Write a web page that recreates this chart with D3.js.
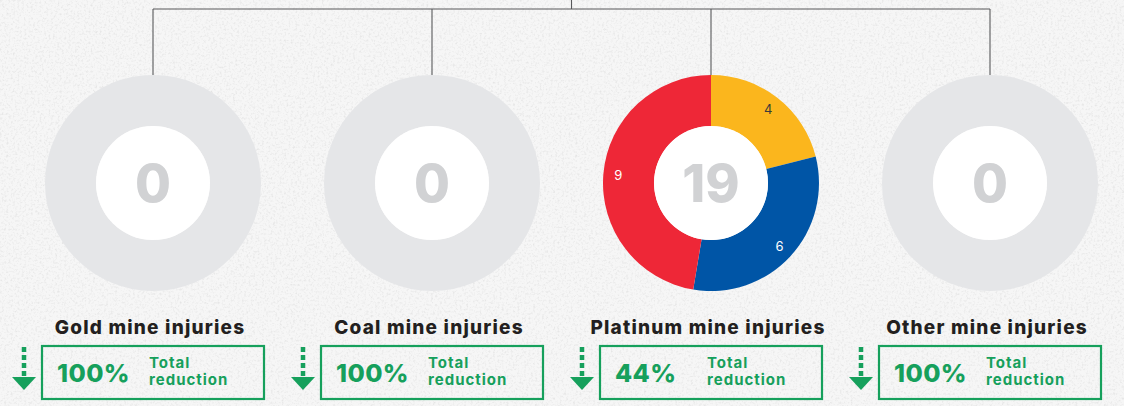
<!DOCTYPE html>
<html>
<head>
<meta charset="utf-8">
<script src="https://cdn.jsdelivr.net/npm/d3@7"></script>
<style>
  html, body { margin: 0; padding: 0; background: #f3f3f3; }
  svg { display: block; font-family: Inter, "Open Sans", sans-serif; }
</style>
</head>
<body>
<div id="chart"></div>
<script>
var categories = ["Gold mine injuries", "Coal mine injuries", "Platinum mine injuries", "Other mine injuries"];
var totals = [0, 0, 19, 0];
var reductions = ["100%", "100%", "44%", "100%"];
var reductionLabel = ["Total", "reduction"];

// platinum breakdown, clockwise from 12 o'clock
var platinumParts = [4, 6, 9];
var partColors = ["#fbb61d", "#0055a6", "#ee2737"];
var partTextColors = ["#3a3a3a", "#ffffff", "#ffffff"];

(function(){
  var width = 1124,
    height = 406;

  var green = "#16a05c";

  var svg = d3.select("#chart")
    .append("svg")
    .attr("width", width)
    .attr("height", height);

  // paper texture
  var defs = svg.append("defs");
  var f = defs.append("filter").attr("id", "paper")
    .attr("x", 0).attr("y", 0).attr("width", "100%").attr("height", "100%");
  f.append("feTurbulence")
    .attr("type", "fractalNoise")
    .attr("baseFrequency", 0.45)
    .attr("numOctaves", 3)
    .attr("seed", 4);
  f.append("feColorMatrix")
    .attr("type", "matrix")
    .attr("values", "0 0 0 0 0.5  0 0 0 0 0.5  0 0 0 0 0.5  0 0 0 -2.2 1.15");

  svg.append("rect").attr("width", width).attr("height", height).attr("fill", "#f6f6f6");
  svg.append("rect").attr("width", width).attr("height", height)
    .attr("filter", "url(#paper)").attr("opacity", 0.3);

  var x = d3.scalePoint().domain(categories).range([153, 990]);
  var cy = 183,
    outerR = 108,
    innerR = 57;

  // connector lines
  var lines = svg.append("g")
    .attr("stroke", "#58595b")
    .attr("stroke-width", 1.1)
    .attr("fill", "none");
  var mid = (x(categories[0]) + x(categories[3])) / 2;
  lines.append("line").attr("x1", mid).attr("x2", mid).attr("y1", 0).attr("y2", 9);
  lines.append("line")
    .attr("x1", x(categories[0])).attr("x2", x(categories[3]))
    .attr("y1", 9).attr("y2", 9);
  lines.selectAll(".drop")
    .data(categories)
    .enter().append("line")
    .attr("class", "drop")
    .attr("x1", function(d){ return x(d); })
    .attr("x2", function(d){ return x(d); })
    .attr("y1", 9)
    .attr("y2", cy - outerR);

  var arc = d3.arc().innerRadius(innerR).outerRadius(outerR);
  var labelArc = d3.arc().innerRadius(93).outerRadius(93);
  var pie = d3.pie().sort(null).value(function(d){ return d; });

  var groups = svg.selectAll(".mine")
    .data(categories)
    .enter().append("g")
    .attr("class", "mine")
    .attr("transform", function(d){ return "translate(" + x(d) + "," + cy + ")"; });

  groups.each(function(d, i){
    var g = d3.select(this);
    if (totals[i] === 0) {
      g.append("path")
        .attr("d", arc({startAngle: 0, endAngle: 2 * Math.PI}))
        .attr("fill", "#e5e6e8");
    } else {
      var arcs = pie(platinumParts);
      g.selectAll(".slice")
        .data(arcs)
        .enter().append("path")
        .attr("class", "slice")
        .attr("d", arc)
        .attr("fill", function(p, j){ return partColors[j]; });
      g.selectAll(".slice-label")
        .data(arcs)
        .enter().append("text")
        .attr("class", "slice-label")
        .attr("transform", function(p){ return "translate(" + labelArc.centroid(p) + ")"; })
        .attr("text-anchor", "middle")
        .attr("dy", "0.35em")
        .attr("font-size", 13)
        .attr("fill", function(p, j){ return partTextColors[j]; })
        .text(function(p){ return p.data; });
    }
    g.append("circle").attr("r", innerR).attr("fill", "#ffffff");
    g.append("text")
      .attr("text-anchor", "middle")
      .attr("y", 19)
      .attr("font-size", 52)
      .attr("font-weight", 800)
      .attr("fill", "#d1d2d4")
      .text(totals[i]);
  });

  // titles
  svg.selectAll(".title")
    .data(categories)
    .enter().append("text")
    .attr("class", "title")
    .attr("x", function(d){ return x(d) - 3; })
    .attr("y", 334)
    .attr("text-anchor", "middle")
    .attr("font-size", 19)
    .attr("font-weight", 800)
    .attr("letter-spacing", 1.2)
    .attr("fill", "#231f20")
    .text(function(d){ return d; });

  // reduction boxes
  var boxW = 222, boxTop = 346, boxH = 53;
  var boxes = svg.selectAll(".box")
    .data(categories)
    .enter().append("g")
    .attr("class", "box")
    .attr("transform", function(d){ return "translate(" + (x(d) - boxW / 2) + ",0)"; });

  boxes.append("rect")
    .attr("x", 0).attr("y", boxTop)
    .attr("width", boxW).attr("height", boxH)
    .attr("fill", "none")
    .attr("stroke", green)
    .attr("stroke-width", 2.2);

  boxes.append("text")
    .attr("x", 15)
    .attr("y", 382)
    .attr("font-size", 25)
    .attr("font-weight", 800)
    .attr("letter-spacing", 0.4)
    .attr("fill", green)
    .text(function(d, i){ return reductions[i]; });

  boxes.selectAll(".lbl")
    .data(reductionLabel)
    .enter().append("text")
    .attr("class", "lbl")
    .attr("x", 107)
    .attr("y", function(d, j){ return 368 + j * 17; })
    .attr("font-size", 15)
    .attr("font-weight", 700)
    .attr("letter-spacing", 1)
    .attr("fill", green)
    .text(function(d){ return d; });

  // dashed down arrows
  var ax = -18;
  boxes.append("line")
    .attr("x1", ax).attr("x2", ax)
    .attr("y1", 347).attr("y2", 380)
    .attr("stroke", green)
    .attr("stroke-width", 4.5)
    .attr("stroke-dasharray", "5,3");
  boxes.append("path")
    .attr("d", "M" + (ax - 12) + ",377 L" + (ax + 12) + ",377 L" + ax + ",390 Z")
    .attr("fill", green);
})();
</script>
</body>
</html>
